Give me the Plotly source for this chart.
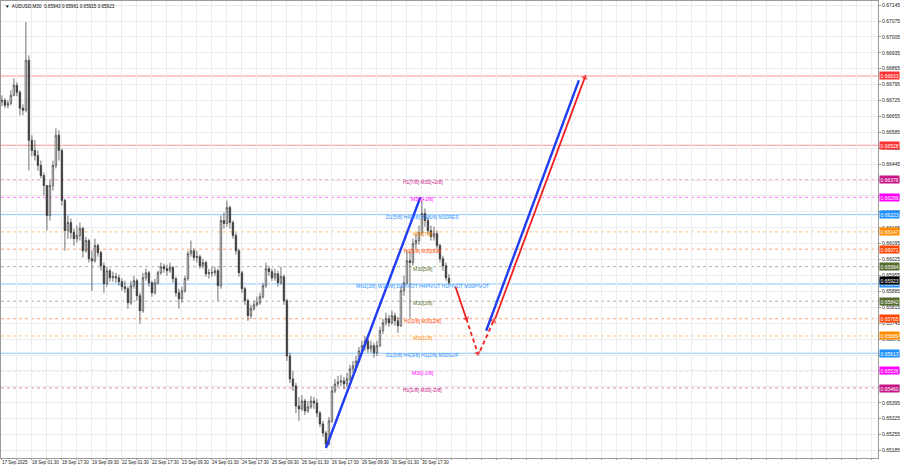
import plotly.graph_objects as go

# ---------------- data (AUDUSD M30; 1 bar = ~3 px group) ----------------
close = [0.66726, 0.66704, 0.66713, 0.66748, 0.66792, 0.66761, 0.66691, 0.66682, 0.66902, 0.66550,
         0.66505, 0.66483, 0.66439, 0.66395, 0.66351, 0.66219, 0.66351, 0.66439, 0.66572, 0.66505,
         0.66285, 0.66153, 0.66188, 0.66144, 0.66117, 0.66131, 0.66162, 0.66064, 0.66109, 0.66029,
         0.66020, 0.66087, 0.66056, 0.65998, 0.65919, 0.65976, 0.65945, 0.65950, 0.65945, 0.65928,
         0.65906, 0.65897, 0.65835, 0.65910, 0.65932, 0.65866, 0.65800, 0.65945, 0.65967, 0.65923,
         0.65879, 0.65923, 0.65967, 0.65994, 0.65985, 0.65976, 0.65990, 0.65941, 0.65879, 0.65853,
         0.65888, 0.65941, 0.66051, 0.66064, 0.66034, 0.66038, 0.65998, 0.66012, 0.65963, 0.65967,
         0.65967, 0.65976, 0.65910, 0.66197, 0.66184, 0.66254, 0.66188, 0.66131, 0.66064, 0.65967,
         0.65897, 0.65844, 0.65778, 0.65809, 0.65826, 0.65835, 0.65862, 0.65910, 0.65985, 0.65972,
         0.65945, 0.65963, 0.65923, 0.65950, 0.65844, 0.65601, 0.65500, 0.65469, 0.65381, 0.65368,
         0.65403, 0.65359, 0.65377, 0.65403, 0.65394, 0.65350, 0.65302, 0.65262, 0.65213, 0.65315,
         0.65447, 0.65478, 0.65487, 0.65491, 0.65478, 0.65500, 0.65544, 0.65557, 0.65579, 0.65623,
         0.65646, 0.65668, 0.65632, 0.65646, 0.65615, 0.65646, 0.65712, 0.65747, 0.65765, 0.65747,
         0.65778, 0.65756, 0.65734, 0.65888, 0.65923, 0.66020, 0.66012, 0.66095, 0.66109, 0.66144,
         0.66228, 0.66197, 0.66153, 0.66126, 0.66139, 0.66087, 0.66029, 0.65998, 0.65945, 0.65923]

open_ = [0.66720, 0.66726, 0.66704, 0.66713, 0.66748, 0.66792, 0.66761, 0.66691, 0.66682, 0.66902,
         0.66550, 0.66505, 0.66483, 0.66439, 0.66395, 0.66351, 0.66219, 0.66351, 0.66439, 0.66572,
         0.66505, 0.66285, 0.66153, 0.66188, 0.66144, 0.66117, 0.66131, 0.66162, 0.66064, 0.66109,
         0.66029, 0.66020, 0.66087, 0.66056, 0.65998, 0.65919, 0.65976, 0.65945, 0.65950, 0.65945,
         0.65928, 0.65906, 0.65897, 0.65835, 0.65910, 0.65932, 0.65866, 0.65800, 0.65945, 0.65967,
         0.65923, 0.65879, 0.65923, 0.65967, 0.65994, 0.65985, 0.65976, 0.65990, 0.65941, 0.65879,
         0.65853, 0.65888, 0.65941, 0.66051, 0.66064, 0.66034, 0.66038, 0.65998, 0.66012, 0.65963,
         0.65967, 0.65967, 0.65976, 0.65910, 0.66197, 0.66184, 0.66254, 0.66188, 0.66131, 0.66064,
         0.65967, 0.65897, 0.65844, 0.65778, 0.65809, 0.65826, 0.65835, 0.65862, 0.65910, 0.65985,
         0.65972, 0.65945, 0.65963, 0.65923, 0.65950, 0.65844, 0.65601, 0.65500, 0.65469, 0.65381,
         0.65368, 0.65403, 0.65359, 0.65377, 0.65403, 0.65394, 0.65350, 0.65302, 0.65262, 0.65213,
         0.65315, 0.65447, 0.65478, 0.65487, 0.65491, 0.65478, 0.65500, 0.65544, 0.65557, 0.65579,
         0.65623, 0.65646, 0.65668, 0.65632, 0.65646, 0.65615, 0.65646, 0.65712, 0.65747, 0.65765,
         0.65747, 0.65778, 0.65756, 0.65734, 0.65888, 0.65923, 0.66020, 0.66012, 0.66095, 0.66109,
         0.66144, 0.66228, 0.66197, 0.66153, 0.66126, 0.66139, 0.66087, 0.66029, 0.65998, 0.65943]

high = [0.66748, 0.66735, 0.66726, 0.66770, 0.66823, 0.66805, 0.66770, 0.66708, 0.67070, 0.66924,
        0.66572, 0.66550, 0.66505, 0.66461, 0.66408, 0.66351, 0.66373, 0.66461, 0.66603, 0.66594,
        0.66514, 0.66294, 0.66219, 0.66206, 0.66162, 0.66175, 0.66188, 0.66170, 0.66126, 0.66117,
        0.66064, 0.66117, 0.66095, 0.66064, 0.66012, 0.65994, 0.65985, 0.65972, 0.65967, 0.65959,
        0.65941, 0.65932, 0.65906, 0.65932, 0.65954, 0.65941, 0.65879, 0.65967, 0.65985, 0.65976,
        0.65932, 0.65941, 0.65976, 0.66012, 0.66007, 0.66003, 0.66012, 0.65998, 0.65950, 0.65897,
        0.65906, 0.65954, 0.66064, 0.66109, 0.66073, 0.66064, 0.66047, 0.66029, 0.66020, 0.65985,
        0.65994, 0.65994, 0.65985, 0.66219, 0.66232, 0.66285, 0.66263, 0.66197, 0.66144, 0.66073,
        0.65976, 0.65906, 0.65853, 0.65826, 0.65844, 0.65862, 0.65879, 0.65923, 0.66012, 0.65998,
        0.65985, 0.65985, 0.65976, 0.65994, 0.65959, 0.65853, 0.65615, 0.65535, 0.65482, 0.65421,
        0.65429, 0.65412, 0.65403, 0.65425, 0.65421, 0.65412, 0.65359, 0.65315, 0.65271, 0.65332,
        0.65469, 0.65500, 0.65513, 0.65518, 0.65509, 0.65526, 0.65562, 0.65579, 0.65601, 0.65641,
        0.65668, 0.65690, 0.65676, 0.65668, 0.65659, 0.65668, 0.65729, 0.65765, 0.65791, 0.65782,
        0.65800, 0.65791, 0.65773, 0.65910, 0.65954, 0.66064, 0.66064, 0.66117, 0.66139, 0.66175,
        0.66285, 0.66250, 0.66214, 0.66175, 0.66170, 0.66153, 0.66095, 0.66042, 0.66012, 0.65961]

low = [0.66700, 0.66691, 0.66691, 0.66704, 0.66744, 0.66744, 0.66660, 0.66660, 0.66673, 0.66417,
       0.66479, 0.66461, 0.66417, 0.66382, 0.66307, 0.66153, 0.66197, 0.66329, 0.66426, 0.66461,
       0.66263, 0.66064, 0.66117, 0.66117, 0.66087, 0.66100, 0.66109, 0.66034, 0.66056, 0.66012,
       0.65888, 0.66012, 0.66038, 0.65976, 0.65879, 0.65906, 0.65928, 0.65928, 0.65923, 0.65910,
       0.65888, 0.65879, 0.65809, 0.65826, 0.65897, 0.65844, 0.65743, 0.65791, 0.65932, 0.65906,
       0.65862, 0.65870, 0.65915, 0.65959, 0.65967, 0.65954, 0.65967, 0.65923, 0.65862, 0.65809,
       0.65835, 0.65879, 0.65932, 0.66038, 0.66020, 0.66012, 0.65985, 0.65985, 0.65950, 0.65941,
       0.65950, 0.65954, 0.65844, 0.65897, 0.66162, 0.66170, 0.66162, 0.66117, 0.66047, 0.65950,
       0.65879, 0.65826, 0.65756, 0.65765, 0.65800, 0.65818, 0.65826, 0.65853, 0.65901, 0.65954,
       0.65932, 0.65932, 0.65906, 0.65915, 0.65826, 0.65579, 0.65482, 0.65447, 0.65350, 0.65315,
       0.65359, 0.65341, 0.65350, 0.65368, 0.65368, 0.65332, 0.65288, 0.65244, 0.65196, 0.65205,
       0.65306, 0.65438, 0.65465, 0.65469, 0.65456, 0.65465, 0.65491, 0.65526, 0.65544, 0.65571,
       0.65615, 0.65623, 0.65615, 0.65615, 0.65593, 0.65601, 0.65641, 0.65698, 0.65734, 0.65729,
       0.65738, 0.65734, 0.65703, 0.65729, 0.65866, 0.65915, 0.65769, 0.65998, 0.66073, 0.66091,
       0.66131, 0.66170, 0.66135, 0.66109, 0.66109, 0.66073, 0.66012, 0.65976, 0.65932, 0.65915]

bar_index = list(range(len(close)))

time_labels = ["17 Sep 2025", "18 Sep 01:30", "18 Sep 17:30", "19 Sep 09:30", "22 Sep 01:30",
               "22 Sep 17:30", "23 Sep 09:30", "24 Sep 01:30", "24 Sep 17:30", "25 Sep 09:30",
               "26 Sep 01:30", "26 Sep 17:30", "29 Sep 09:30", "30 Sep 01:30", "30 Sep 17:30"]

price_ticks = [0.67145, 0.67075, 0.67005, 0.66935, 0.66865, 0.66795, 0.66725, 0.66655, 0.66585,
               0.66515, 0.66445, 0.66375, 0.66305, 0.66235, 0.66165, 0.66095, 0.66025, 0.65955,
               0.65885, 0.65815, 0.65745, 0.65675, 0.65605, 0.65535, 0.65465, 0.65395, 0.65325,
               0.65255, 0.65185]

# Murrey-math style levels
levels = [0.66833, 0.66528, 0.66376, 0.66299, 0.66223, 0.66147, 0.66071, 0.65994,
          0.65918, 0.65842, 0.65765, 0.65689, 0.65613, 0.65536, 0.65460]
level_texts = ["", "", "H1[7/8] M30[+2/8]", "M30[+1/8]", "D1[5/8] H4[5/8] H1[6/8] M30RES",
               "M30[7/8]", "H1[5/8] M30[6/8]", "M30[5/8]",
               "MN1[3/8] W1[4/8] D1PIVOT H4PIVOT H1PIVOT M30PIVOT", "M30[3/8]",
               "H1[3/8] M30[2/8]", "M30[1/8]", "D1[3/8] H4[3/8] H1[2/8] M30SUP", "M30[-1/8]",
               "H1[1/8] M30[-2/8]"]
level_colors = ["#ff3030", "#ff3030", "#c71585", "#ff00ff", "#1e90ff", "#ff8c00", "#ff4500",
                "#556b2f", "#1e90ff", "#556b2f", "#ff4500", "#ff8c00", "#1e90ff", "#ff00ff",
                "#c71585"]
level_solid = [True, True, False, False, True, False, False, False, True, False, False,
               False, True, False, False]

current_price = 0.65923

# drawn forecast lines: (x in bars, price)
blue_up = ([108, 139.5], [0.65196, 0.66300])
red_down = ([151.2, 154.8], [0.65905, 0.65765])
red_dash_down = ([154.8, 158.6], [0.65765, 0.65613])
red_dash_up = ([159.4, 163.9], [0.65624, 0.65756])
blue_long = ([161.4, 192.3], [0.65712, 0.66814])
red_long = ([164.4, 194.3], [0.65765, 0.66827])

# ---------------- figure ----------------
FONT = "Liberation Sans"
fig = go.Figure()

fig.add_trace(go.Candlestick(
    x=bar_index, open=open_, high=high, low=low, close=close,
    increasing=dict(line=dict(color="#333333", width=0.7), fillcolor="#ffffff"),
    decreasing=dict(line=dict(color="#333333", width=0.7), fillcolor="#333333"),
    whiskerwidth=0, showlegend=False, hoverinfo="skip"))


def seg(xy, color, width, dash="solid", arrow=False):
    fig.add_trace(go.Scatter(
        x=xy[0], y=xy[1], mode="lines+markers" if arrow else "lines",
        line=dict(color=color, width=width, dash=dash),
        marker=dict(symbol="triangle-up", size=[0, 6], color=color, angleref="previous",
                    line=dict(width=0)),
        showlegend=False, hoverinfo="skip"))


seg(blue_up, "#1f3cf0", 2.4)
seg(red_down, "#f02020", 1.8, arrow=True)
seg(red_dash_down, "#f02020", 1.8, dash="4px,3px", arrow=True)
seg(red_dash_up, "#f02020", 1.8, dash="4px,3px", arrow=True)
seg(blue_long, "#1f3cf0", 2.4)
seg(red_long, "#f02020", 1.8, arrow=True)

shapes = []
annotations = []
for lv, txt, col, solid in zip(levels, level_texts, level_colors, level_solid):
    shapes.append(dict(type="line", xref="paper", x0=0, x1=1, yref="y", y0=lv, y1=lv,
                       layer="between",
                       line=dict(color=col, width=1, dash="solid" if solid else "3px,3px"),
                       opacity=0.5))
    if txt:
        annotations.append(dict(x=140.3, y=lv, xref="x", yref="y", text=txt, showarrow=False,
                                yshift=-2, font=dict(family=FONT, size=5, color=col)))
    annotations.append(dict(x=1, y=lv, xref="paper", yref="y", xanchor="left", xshift=1,
                            text=f"{lv:.5f}", showarrow=False, bgcolor=col, borderpad=0.5,
                            font=dict(family=FONT, size=5, color="#ffffff")))

annotations.append(dict(x=1, y=current_price, xref="paper", yref="y", xanchor="left",
                        xshift=1, yshift=2, text=f"{current_price:.5f}", showarrow=False,
                        bgcolor="#000000", borderpad=0.5,
                        font=dict(family=FONT, size=5, color="#ffffff")))

annotations.append(dict(x=0, y=1, xref="paper", yref="paper", xanchor="left", yanchor="top",
                        xshift=2, yshift=-1, showarrow=False,
                        text="\u25bc  AUDUSD,M30  0.65943 0.65961 0.65915 0.65923",
                        font=dict(family=FONT, size=4.6, color="#000000")))

tick_x = [k * 5 - 0.3 for k in range(59)]
tick_text = [time_labels[k // 2] if (k % 2 == 0 and k // 2 < len(time_labels)) else ""
             for k in range(59)]

fig.update_layout(
    width=900, height=468,
    margin=dict(l=1, r=22, t=1, b=10, autoexpand=False),
    paper_bgcolor="#ffffff", plot_bgcolor="#ffffff",
    shapes=shapes, annotations=annotations,
    font=dict(family=FONT, size=5, color="#222222"),
    xaxis=dict(range=[-0.3, 292.0], tickmode="array", tickvals=tick_x, ticktext=tick_text,
               ticklabelposition="outside right", tickangle=0, showgrid=True,
               gridcolor="#ececec", gridwidth=1, zeroline=False, showline=True,
               linecolor="#9a9a9a", mirror=True, ticks="outside", ticklen=1,
               tickcolor="#9a9a9a", ticklabelstandoff=0,
               tickfont=dict(family=FONT, size=4.5, color="#222222"),
               rangeslider=dict(visible=False), fixedrange=True),
    yaxis=dict(range=[0.65152, 0.67163], side="right", tickmode="array", tickvals=price_ticks,
               ticktext=[f"{v:.5f}" for v in price_ticks], showgrid=True, gridcolor="#ececec",
               zeroline=False, showline=True, linecolor="#9a9a9a", mirror=True,
               ticks="outside", ticklen=2, tickcolor="#9a9a9a",
               tickfont=dict(family=FONT, size=5, color="#222222"), fixedrange=True),
)

fig.write_html("out.html", config={"displayModeBar": False},
               post_script="document.body.style.margin='0';document.body.style.overflow='hidden';")
